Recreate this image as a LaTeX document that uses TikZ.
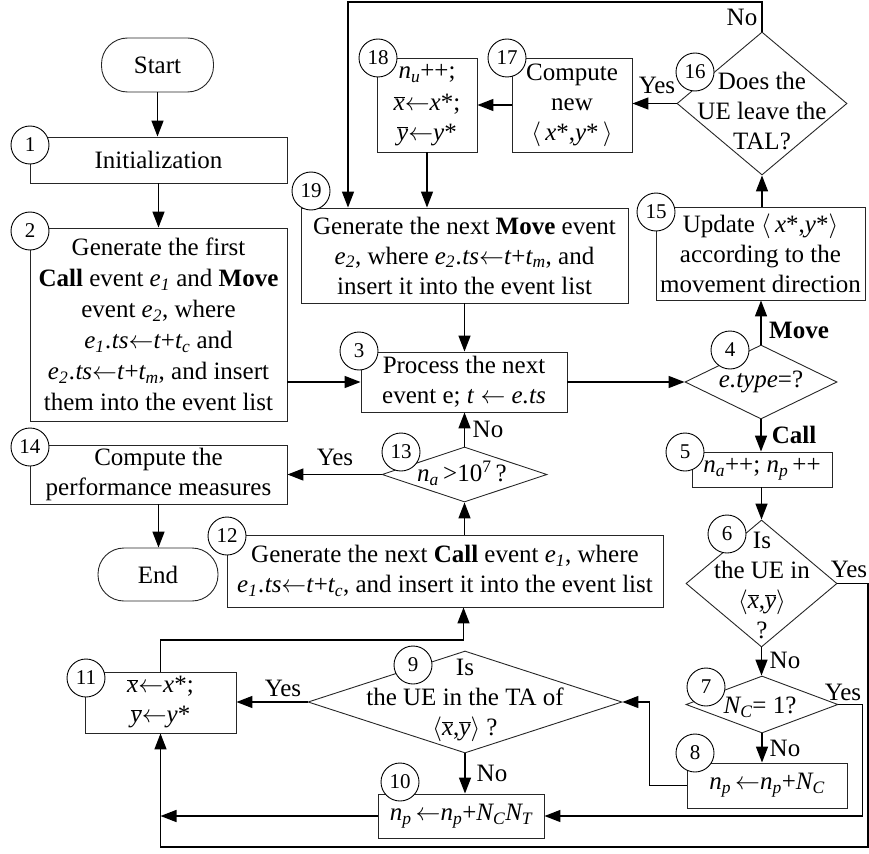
\documentclass[tikz,border=0pt]{standalone}
\usepackage{fontspec}
\setmainfont{Liberation Serif}
\usetikzlibrary{arrows.meta,shapes.geometric,calc}
\newcommand\ovl[1]{\ensuremath{\overline{\mbox{\textit{#1}}}}}
\newcommand\sbs[1]{\textsubscript{#1}}
\newcommand\la{\ensuremath{\leftarrow}}
\begin{document}
\begin{tikzpicture}[x=1pt,y=-1pt,
  box/.style={draw=black!85, line width=0.9pt, rectangle, align=center, inner sep=0pt, font=\fontsize{25}{30}\selectfont},
  term/.style={box, rounded corners=26pt},
  dia/.style={draw=black!85, line width=0.9pt, diamond, inner sep=0pt},
  txt/.style={align=center, inner sep=0pt, font=\fontsize{25}{30}\selectfont},
  num/.style={draw=black, line width=0.9pt, circle, fill=white, minimum size=38pt, inner sep=0pt, font=\fontsize{21}{24}\selectfont},
  arr/.style={line width=1.5pt, -{Triangle[length=16pt,width=12pt]}},
  ln/.style={line width=1.5pt},
  lab/.style={inner sep=0pt, font=\fontsize{25}{30}\selectfont}]
\useasboundingbox (0,0) rectangle (869,853);

% boxes
\node[term, minimum width=112pt, minimum height=54pt] (start) at (157.5,65) {Start};
\node[box, minimum width=257pt, minimum height=46pt] (b1) at (158.5,160) {Initialization};
\node[box, minimum width=257pt, minimum height=193pt, font=\fontsize{25}{31}\selectfont] (b2) at (158.5,324.5) {Generate the first\\\textbf{Call} event \textit{e\sbs{1}} and \textbf{Move}\\event \textit{e\sbs{2}}, where\\\textit{e\sbs{1}\kern1pt.ts}\la\textit{t}+\textit{t\sbs{c}} and\\\textit{e\sbs{2}\kern1pt.ts}\la\textit{t}+\textit{t\sbs{m}}, and insert\\them into the event list};
\node[box, minimum width=206pt, minimum height=60pt] (b3) at (464,382) {Process the next\\event e; \textit{t} \la{} \textit{e.ts}};
\node[box, minimum width=209pt, minimum height=93pt] (b15) at (760.5,253.5) {Update $\langle$\,\textit{x}*,\textit{y}*$\rangle$\\according to the\\movement direction};
\node[box, minimum width=120pt, minimum height=94pt] (b17) at (572,105) {Compute\\new\\$\langle$\,\textit{x}*,\textit{y}*\,$\rangle$};
\node[box, minimum width=100pt, minimum height=94pt] (b18) at (427,105) {\textit{n\sbs{u}}++;\\[2pt]\ovl{x}\la\textit{x}*;\\\ovl{y}\la\textit{y}*};
\node[box, minimum width=327pt, minimum height=95pt] (b19) at (464.5,255.5) {Generate the next \textbf{Move} event\\\textit{e\sbs{2}}, where \textit{e\sbs{2}\kern1pt.ts}\la\textit{t}+\textit{t\sbs{m}}, and\\insert it into the event list};
\node[box, minimum width=140pt, minimum height=35pt] (b5) at (762,469.5) {\textit{n\sbs{a}}++; \textit{n\sbs{p}}\,++};
\node[box, minimum width=160pt, minimum height=45pt] (b8) at (767,785.5) {\textit{n\sbs{p}}\,\la\textit{n\sbs{p}}+\textit{N\sbs{C}}};
\node[box, minimum width=166pt, minimum height=44pt] (b10) at (461,816) {\textit{n\sbs{p}}\,\la\textit{n\sbs{p}}+\textit{N\sbs{C}N\sbs{T}}};
\node[box, minimum width=151pt, minimum height=61pt] (b11) at (160.5,702.5) {\ovl{x}\la\textit{x}*;\\\ovl{y}\la\textit{y}*};
\node[box, minimum width=436pt, minimum height=72pt] (b12) at (445,571) {Generate the next \textbf{Call} event \textit{e\sbs{1}}, where\\\textit{e\sbs{1}\kern1pt.ts}\la\textit{t}+\textit{t\sbs{c}}, and insert it into the event list};
\node[box, minimum width=257pt, minimum height=59pt] (b14) at (158.5,474.5) {Compute the\\performance measures};
\node[term, minimum width=120pt, minimum height=53pt] (end) at (158,574.5) {End};

% diamonds
\node[dia, minimum width=152pt, minimum height=74pt] (d4) at (761,382) {};
\node[txt] (d4t) at (761,382) {\textit{e.type}=?};
\node[dia, minimum width=170pt, minimum height=143pt] (d16) at (762,103.5) {};
\node[txt] (d16t) at (762,111) {Does the\\UE leave the\\TAL?};
\node[dia, minimum width=151pt, minimum height=127pt] (d6) at (761.5,583.5) {};
\node[txt] (d6t) at (762,585) {Is\\the UE in\\$\langle$\ovl{x},\ovl{y}$\rangle$\\?};
\node[dia, minimum width=152pt, minimum height=57pt] (d7) at (762,704.5) {};
\node[txt] (d7t) at (760,707) {\textit{N\sbs{C}}= 1?};
\node[dia, minimum width=314pt, minimum height=102pt] (d9) at (465,702) {};
\node[txt] (d9t) at (465,700) {Is\\the UE in the TA of\\$\langle$\ovl{x},\ovl{y}$\rangle$ ?};
\node[dia, minimum width=165pt, minimum height=55pt] (d13) at (464.5,474.5) {};
\node[txt] (d13t) at (462,473) {\textit{n\sbs{a}}\,>10\textsuperscript{7}\,?};

% helper coordinates
\coordinate (t16) at (348,2);
\coordinate (r6) at (868,847);
\coordinate (m11) at (463.5,640);

% connectors
\draw[arr] (start.south) -- (start.south |- b1.north);
\draw[arr] (b1.south) -- (b1.south |- b2.north);
\draw[arr] (b2.east |- b3.west) -- (b3.west);
\draw[arr] (b3.east) -- (d4.west);
\draw[arr] (d4.north) -- (d4.north |- b15.south);
\draw[arr] (d16.south |- b15.north) -- (d16.south);
\draw[arr] (d16.north) |- (t16) -- (t16 |- b19.north);
\draw[arr] (d16.west) -- (d16.west -| b17.east);
\draw[arr] (b17.west |- b18.east) -- (b18.east);
\draw[arr] (b18.south) -- (b18.south |- b19.north);
\draw[arr] (b19.south) -- (b19.south |- b3.north);
\draw[arr] (d4.south) -- (d4.south |- b5.north);
\draw[arr] (d6.north |- b5.south) -- (d6.north);
\draw[arr] (d6.south) -- (d6.south |- d7.north);
\draw[arr] (d7.south) -- (d7.south |- b8.north);
\draw[arr] (d7.east) -- ++(24,0) |- (b10.east);
\draw[arr] (b8.west) -- ++(-37,0) |- (d9.east);
\draw[arr] (d9.west) -- (d9.west -| b11.east);
\draw[arr] (d9.south) -- (d9.south |- b10.north);
\draw[arr] (b10.west) -- (b10.west -| b11.south);
\draw[arr] (d6.east) -| (r6) -| (b11.south);
\draw[arr] (b11.north) |- (m11) -- (m11 |- b12.south);
\draw[arr] (d13.south |- b12.north) -- (d13.south);
\draw[arr] (d13.north) -- (d13.north |- b3.south);
\draw[arr] (d13.west) -- (d13.west -| b14.east);
\draw[arr] (b14.south) -- (b14.south |- end.north);

% labels
\node[lab] (l16no) at (742,17) {No};
\node[lab] (l16yes) at (657,85) {Yes};
\node[lab] (l4move) at (799,330) {\textbf{Move}};
\node[lab] (l4call) at (794,435) {\textbf{Call}};
\node[lab] (l13no) at (488,429) {No};
\node[lab] (l13yes) at (335,457) {Yes};
\node[lab] (l6yes) at (849,569) {Yes};
\node[lab] (l6no) at (785,660) {No};
\node[lab] (l7yes) at (843,692) {Yes};
\node[lab] (l7no) at (785,748) {No};
\node[lab] (l9yes) at (283,688) {Yes};
\node[lab] (l9no) at (492,773) {No};

% number circles
\node[num] (c1) at (30,145) {1};
\node[num] (c2) at (30,231) {2};
\node[num] (c3) at (359,351) {3};
\node[num] (c4) at (730,350) {4};
\node[num] (c5) at (685,452) {5};
\node[num] (c6) at (727,534) {6};
\node[num] (c7) at (706,687) {7};
\node[num] (c8) at (695,753) {8};
\node[num] (c9) at (413,665) {9};
\node[num] (c10) at (400,782) {10};
\node[num] (c11) at (86,678) {11};
\node[num] (c12) at (227,536) {12};
\node[num] (c13) at (401,452) {13};
\node[num] (c14) at (30,447) {14};
\node[num] (c15) at (656,212) {15};
\node[num] (c16) at (695,72) {16};
\node[num] (c17) at (507,58) {17};
\node[num] (c18) at (378,58) {18};
\node[num] (c19) at (311,191) {19};
\end{tikzpicture}
\end{document}
